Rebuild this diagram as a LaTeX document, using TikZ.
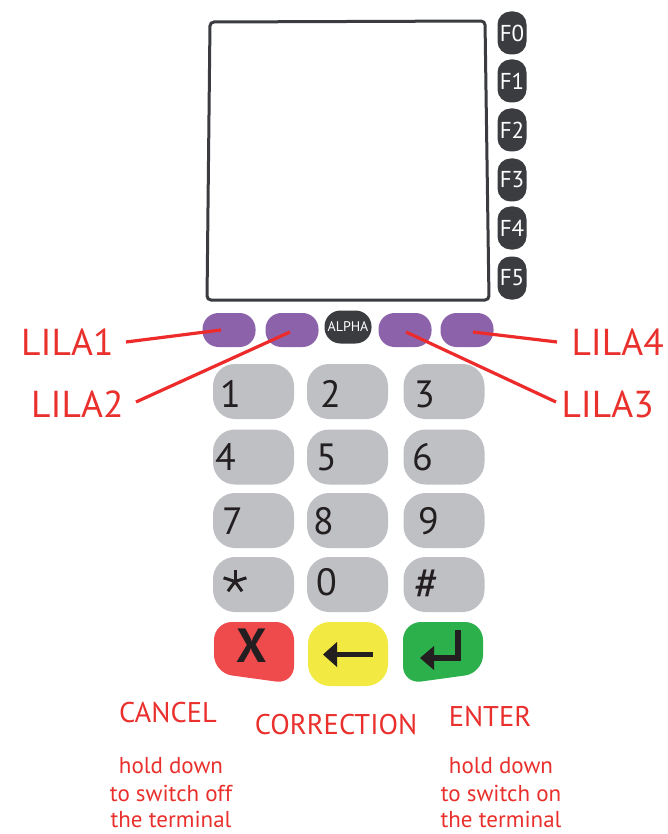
\documentclass[tikz,border=0pt]{standalone}
\usepackage{fontspec}
\setmainfont{PT Sans}
\newcommand\myfs[1]{\fontsize{#1}{#1}\selectfont}
\definecolor{labred}{HTML}{E9302D}
\definecolor{linered}{HTML}{EE2B2B}
\definecolor{lilac}{HTML}{8C63AA}
\definecolor{darkkey}{HTML}{3A3C3F}
\definecolor{graykey}{HTML}{BEC0C4}
\definecolor{cancelred}{HTML}{EF4B4D}
\definecolor{corryellow}{HTML}{F2EA43}
\definecolor{entergreen}{HTML}{2CB04C}
\definecolor{digitcol}{HTML}{231F20}
\begin{document}
\begin{tikzpicture}[x=1pt,y=-1pt,
  scr/.style={draw=darkkey,line width=3pt,rounded corners=4pt},
  fkey/.style={fill=darkkey,text=white,minimum width=29pt,minimum height=43pt,rounded corners=13pt,inner sep=0pt,font=\myfs{23}},
  lila/.style={fill=lilac,minimum width=53pt,minimum height=34pt,rounded corners=16pt,inner sep=0pt},
  alphakey/.style={fill=darkkey,text=white,minimum width=47pt,minimum height=33pt,rounded corners=16pt,inner sep=0pt,font=\myfs{14}},
  lab/.style={text=labred,inner sep=0pt,font=\myfs{37.5}},
  pline/.style={draw=linered,line width=3.2pt},
  key/.style={fill=graykey,minimum width=81pt,minimum height=55pt,rounded corners=22pt,inner sep=0pt},
  digit/.style={text=digitcol,inner sep=0pt,anchor=base west,font=\myfs{38}},
  caption/.style={text=labred,inner sep=0pt,anchor=base,font=\myfs{28.5}},
  note/.style={text=labred,inner sep=0pt,anchor=base,font=\myfs{23}},
]
\useasboundingbox[fill=white] (0,0) rectangle (667,834);

% screen
\draw[scr] (210,22) -- (485,21) -- (489,300) -- (207,300) -- cycle;

% function keys
\foreach \i/\yy in {0/33,1/81,2/130,3/180,4/228,5/278}
  \node[fkey] (f\i) at (512,\yy) {F\i};

% lilac keys and alpha
\node[lila] (p1) at (229,330) {};
\node[lila] (p2) at (292,330) {};
\node[alphakey] (alpha) at (348,327) {ALPHA};
\node[lila] (p3) at (405,330) {};
\node[lila] (p4) at (467,330) {};

% labels
\node[lab,anchor=base west] (lila1) at (21,355) {LILA1};
\node[lab,anchor=base west] (lila2) at (31,417) {LILA2};
\node[lab,anchor=base east] (lila4) at (664,355) {LILA4};
\node[lab,anchor=base east] (lila3) at (654,417) {LILA3};

\coordinate (s1) at (126,342);
\coordinate (s2) at (136,402);
\coordinate (s3) at (556,402);
\coordinate (s4) at (557,342);
\draw[pline] (s1) -- ([xshift=-8pt]p1.center);
\draw[pline] (s2) -- ([xshift=-2pt,yshift=-2pt]p2.center);
\draw[pline] (s3) -- ([xshift=1pt,yshift=-2pt]p3.center);
\draw[pline] (s4) -- ([xshift=6pt,yshift=-2pt]p4.center);

% keypad
\foreach \r/\yy in {1/391.5,2/457,3/520.5,4/584.5}
  \foreach \c/\xx in {1/253.5,2/347.5,3/444}
    \node[key] (k\r\c) at (\xx,\yy) {};

\node[digit] (d1) at (220,407) {1};
\node[digit] (d2) at (320,407) {2};
\node[digit] (d3) at (414,407) {3};
\node[digit] (d4) at (215,470) {4};
\node[digit] (d5) at (316,470) {5};
\node[digit] (d6) at (412,470) {6};
\node[digit] (d7) at (222,534) {7};
\node[digit] (d8) at (313,534) {8};
\node[digit] (d9) at (418,534) {9};
\node[digit] (d0) at (316,595) {0};
\node[digit,font=\myfs{46}] (dh) at (414,599) {\#};
% asterisk
\coordinate (ast) at (235,581.5);
\foreach \a in {90,18,162,234,306}
  \draw[draw=digitcol,line width=3pt] (ast) -- ++(\a:-12);

% bottom keys
\fill[cancelred,rounded corners=18pt] (214,622) -- (294,622) -- (294,684) -- (214,673) -- cycle;
\fill[corryellow,rounded corners=22pt] (308,622) rectangle (388,686);
\fill[entergreen,rounded corners=18pt] (403,622) -- (483,622) -- (483,673) -- (403,684) -- cycle;

\node[text=digitcol,inner sep=0pt,font=\bfseries\myfs{48}] (xk) at (252,646) {X};
\draw[draw=digitcol,line width=5pt] (335,654.5) -- (373,654.5);
\fill[digitcol] (323,654.5) -- (337,642) -- (337,667) -- cycle;
\draw[draw=digitcol,line width=6pt,miter limit=10] (458,630) -- (458,658) -- (432,658);
\fill[digitcol] (420,658) -- (434,646) -- (434,670) -- cycle;

% captions
\node[caption] (cancel) at (168,722) {CANCEL};
\node[caption] (corr) at (336,734) {CORRECTION};
\node[caption] (enter) at (490,726) {ENTER};

\node[note] (h1) at (171,773) {hold down};
\node[note] (h2) at (171,801) {to switch off};
\node[note] (h3) at (171,827) {the terminal};
\node[note] (g1) at (501,773) {hold down};
\node[note] (g2) at (501,801) {to switch on};
\node[note] (g3) at (501,827) {the terminal};
\end{tikzpicture}
\end{document}
